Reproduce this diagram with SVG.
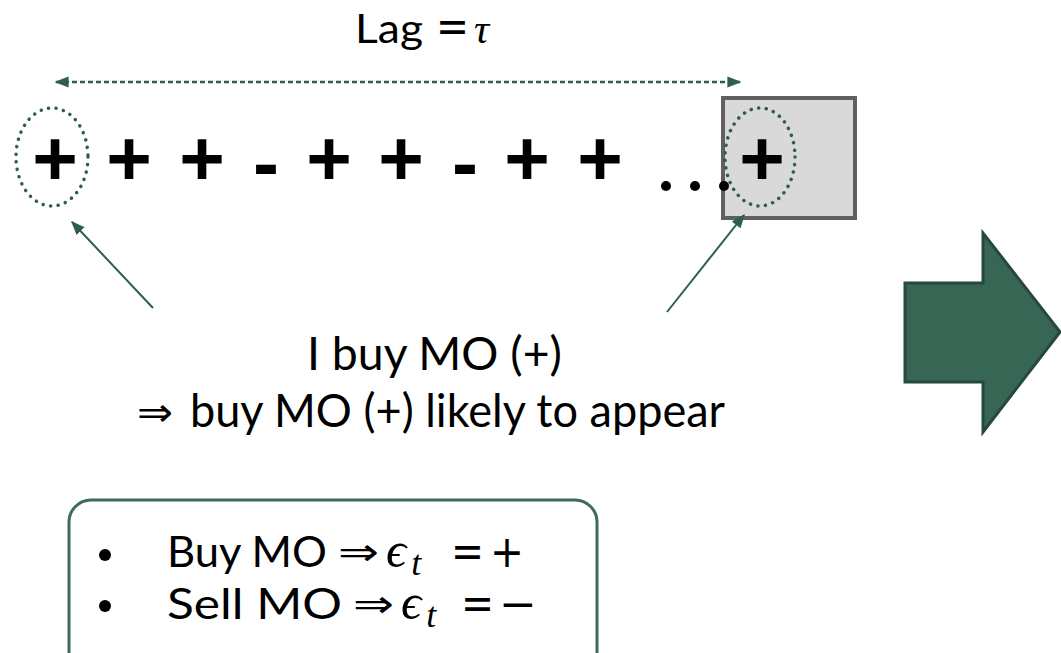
<svg xmlns="http://www.w3.org/2000/svg" width="1061" height="653" viewBox="0 0 1061 653">
<style>
.t{font-family:Lato,"Open Sans",sans-serif;fill:#000;}
.m{font-family:"Liberation Serif",serif;font-style:italic;fill:#000;}
.r{font-family:"DejaVu Sans","Liberation Sans",sans-serif;fill:#000;}
.sym{font-family:"Liberation Sans",Arial,sans-serif;font-weight:bold;font-size:78px;text-anchor:middle;fill:#000;}
.conn{stroke:#2e5e4e;stroke-width:2;fill:none;}
.dot{stroke:#2e5e4e;stroke-width:3.5;fill:none;stroke-dasharray:0.1 7.5;stroke-linecap:round;}
</style>
<defs>
<marker id="ah2" viewBox="0 0 10 10" refX="9" refY="5" markerWidth="14" markerHeight="14" orient="auto-start-reverse" markerUnits="userSpaceOnUse">
<path d="M0,1 L10,5 L0,9 z" fill="#2e5e4e"/>
</marker>
</defs>
<rect width="1061" height="653" fill="#fff"/>

<g id="lag-label">
<text class="t" x="355" y="43" font-size="41" textLength="68" lengthAdjust="spacingAndGlyphs">Lag</text>
<text class="r" x="436" y="42" font-size="46" textLength="33" lengthAdjust="spacingAndGlyphs">=</text>
<text class="m" x="474" y="43" font-size="42">τ</text>
</g>

<g id="current-box">
<rect x="723" y="98" width="132" height="120" fill="#d9d9d9" stroke="#606060" stroke-width="4"/>
</g>

<g id="sequence">
<text class="sym" x="55" y="185">+</text>
<text class="sym" x="129" y="185">+</text>
<text class="sym" x="202" y="185">+</text>
<text class="sym" x="266" y="190">-</text>
<text class="sym" x="329" y="185">+</text>
<text class="sym" x="401" y="185">+</text>
<text class="sym" x="465" y="190">-</text>
<text class="sym" x="527" y="185">+</text>
<text class="sym" x="600" y="185">+</text>
<circle cx="666" cy="186" r="5" fill="#000"/>
<circle cx="695" cy="186" r="5" fill="#000"/>
<circle cx="724" cy="186" r="5" fill="#000"/>
<text class="sym" x="762" y="185">+</text>
</g>

<g id="highlight-left">
<ellipse class="dot" cx="52" cy="157" rx="36" ry="49"/>
</g>
<g id="highlight-right">
<ellipse class="dot" cx="760" cy="157" rx="35" ry="49"/>
</g>

<g id="explanation">
<text class="t" x="307" y="370" font-size="46" textLength="255" lengthAdjust="spacingAndGlyphs">I buy MO (+)</text>
<text class="r" x="137" y="426" font-size="40" textLength="36" lengthAdjust="spacingAndGlyphs">⇒</text>
<text class="t" x="190" y="427" font-size="46" textLength="535" lengthAdjust="spacingAndGlyphs">buy MO (+) likely to appear</text>
</g>

<g id="big-arrow">
<polygon points="905,283 983,283 983,233 1060,332 983,432 983,382 905,382" fill="#376654" stroke="#27483c" stroke-width="3"/>
</g>

<g id="legend">
<rect x="69" y="500" width="528" height="175" rx="22" ry="22" fill="#fff" stroke="#3f6b5a" stroke-width="3"/>
<circle cx="105" cy="555" r="6" fill="#000"/>
<text class="t" x="167" y="567" font-size="43" textLength="160" lengthAdjust="spacingAndGlyphs">Buy MO</text>
<text class="r" x="338" y="565" font-size="38" textLength="41" lengthAdjust="spacingAndGlyphs">⇒</text>
<text class="m" x="386" y="567" font-size="50">ϵ<tspan font-size="36" dx="5" dy="8">t</tspan></text>
<text class="r" x="451" y="567" font-size="46" textLength="33" lengthAdjust="spacingAndGlyphs">=</text>
<text class="r" x="490" y="567" font-size="44" textLength="34" lengthAdjust="spacingAndGlyphs">+</text>
<circle cx="105" cy="606" r="6" fill="#000"/>
<text class="t" x="167" y="619" font-size="43" textLength="175" lengthAdjust="spacingAndGlyphs">Sell MO</text>
<text class="r" x="353" y="617" font-size="38" textLength="41" lengthAdjust="spacingAndGlyphs">⇒</text>
<text class="m" x="401" y="619" font-size="50">ϵ<tspan font-size="36" dx="5" dy="8">t</tspan></text>
<text class="r" x="461" y="619" font-size="46" textLength="33" lengthAdjust="spacingAndGlyphs">=</text>
<text class="r" x="499" y="619" font-size="44" textLength="38" lengthAdjust="spacingAndGlyphs">−</text>
</g>

<g id="connectors">
<line x1="56" y1="82" x2="740" y2="82" stroke="#2e5e4e" stroke-width="2.5" stroke-dasharray="5 3" marker-start="url(#ah2)" marker-end="url(#ah2)"/>
<line class="conn" x1="153" y1="308" x2="72" y2="222" marker-end="url(#ah2)"/>
<line class="conn" x1="667" y1="312" x2="744" y2="215" marker-end="url(#ah2)"/>
</g>
</svg>
